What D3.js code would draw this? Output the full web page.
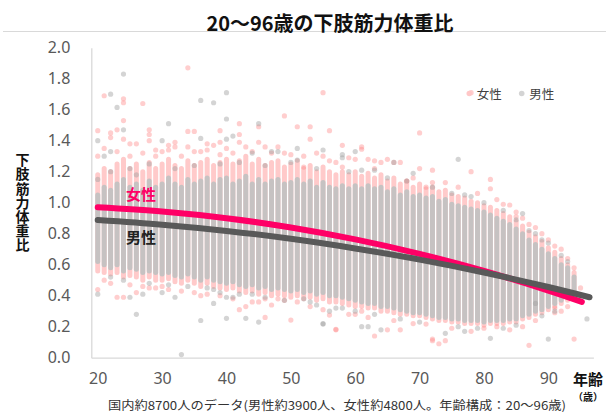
<!DOCTYPE html>
<html><head><meta charset="utf-8">
<script src="https://cdn.jsdelivr.net/npm/d3@7/dist/d3.min.js"></script>
<style>
html,body{margin:0;padding:0;background:#fff;}
svg{display:block;font-family:"Noto Sans CJK JP","Noto Sans",sans-serif;}
</style></head>
<body><svg id="chart" width="606" height="412"></svg>
<script>
// ---- data ----
const ages = [20,21,22,23,24,25,26,27,28,29,30,31,32,33,34,35,36,37,38,39,40,41,42,43,44,45,46,47,48,49,50,51,52,53,54,55,56,57,58,59,60,61,62,63,64,65,66,67,68,69,70,71,72,73,74,75,76,77,78,79,80,81,82,83,84,85,86,87,88,89,90,91,92,93,94,95,96];
// dense column ranges (ratio) per age
const maleHi = [1.05,1.10,1.08,1.12,1.15,1.10,1.12,1.08,1.14,1.10,1.12,1.16,1.12,1.10,1.15,1.12,1.14,1.16,1.12,1.15,1.16,1.12,1.14,1.17,1.12,1.15,1.12,1.14,1.15,1.12,1.13,1.15,1.12,1.14,1.10,1.13,1.10,1.09,1.11,1.09,1.11,1.09,1.11,1.09,1.10,1.07,1.09,1.05,1.07,1.04,1.05,1.03,1.04,1.01,1.02,0.99,0.98,0.97,0.96,0.95,0.94,0.92,0.90,0.88,0.86,0.83,0.80,0.76,0.73,0.70,0.67,0.64,0.60,0.58,0.52,null,null];
const maleLo = [0.62,0.60,0.58,0.60,0.56,0.58,0.57,0.55,0.56,0.55,0.54,0.55,0.53,0.52,0.54,0.52,0.50,0.52,0.50,0.49,0.48,0.49,0.47,0.46,0.47,0.45,0.46,0.44,0.45,0.44,0.43,0.44,0.42,0.43,0.41,0.42,0.40,0.40,0.39,0.38,0.37,0.36,0.35,0.35,0.33,0.33,0.32,0.31,0.30,0.29,0.29,0.28,0.27,0.26,0.26,0.25,0.25,0.24,0.24,0.24,0.23,0.24,0.24,0.24,0.25,0.25,0.27,0.28,0.30,0.31,0.33,0.35,0.37,0.39,0.42,null,null];
const femaleHi = [1.18,1.22,1.20,1.25,1.28,1.22,1.25,1.20,1.26,1.22,1.25,1.28,1.24,1.22,1.27,1.24,1.26,1.28,1.24,1.26,1.28,1.25,1.27,1.30,1.25,1.28,1.24,1.26,1.27,1.23,1.25,1.27,1.22,1.24,1.20,1.23,1.20,1.18,1.20,1.18,1.20,1.17,1.19,1.16,1.18,1.14,1.16,1.12,1.14,1.10,1.12,1.09,1.10,1.07,1.08,1.05,1.04,1.03,1.01,1.00,0.98,0.97,0.95,0.93,0.91,0.88,0.85,0.81,0.78,0.75,0.71,0.68,0.64,0.60,0.55,null,null];
const femaleLo = [0.56,0.55,0.54,0.55,0.52,0.53,0.52,0.50,0.52,0.50,0.50,0.51,0.49,0.48,0.50,0.48,0.46,0.48,0.46,0.45,0.44,0.45,0.43,0.42,0.43,0.41,0.42,0.40,0.41,0.40,0.39,0.40,0.38,0.39,0.37,0.38,0.36,0.36,0.35,0.34,0.33,0.33,0.32,0.32,0.30,0.30,0.29,0.28,0.28,0.27,0.27,0.26,0.25,0.24,0.24,0.23,0.23,0.22,0.22,0.22,0.21,0.22,0.22,0.22,0.23,0.23,0.25,0.26,0.28,0.29,0.31,0.33,0.35,0.37,0.40,null,null];
// individual scattered points [age, ratio]
const femalePoints = [[34,1.87],[21,1.69],[24,1.67],[24,1.645],[27,1.64],[24,1.53],[20,1.465],[22,1.45],[22,1.42],[23,1.47],[24,1.41],[28,1.47],[28,1.44],[28,1.40],[34,1.46],[35,1.46],[26,1.38],[25,1.38],[31,1.37],[31,1.34],[32,1.39],[32,1.36],[29,1.34],[37,1.38],[37,1.34],[38,1.37],[34,1.36],[35,1.33],
[20,0.44],[23,0.39],[24,0.39],[26,0.42],[28,0.45],[29,0.45],[30,0.46],[36,0.40],[21,0.50],[22,0.48],
[55,1.71],[49,1.56],[39,1.465],[42,1.51],[51,1.49],[53,1.49],[56,1.465],[42,1.44],[39,1.39],[45,1.39],[53,1.41],[46,1.36],[48,1.36],[42,1.39],[49,1.32],[54,1.32],[39,1.31],[52,1.23],[56,1.27],[58,1.37],[45,1.49],
[46,0.26],[50,0.243],[57,0.183],[56,0.275],[42,0.31],[43,0.33],[44,0.36],[45,0.36],[46,0.38],[48,0.38],[49,0.37],[51,0.36],
[78,1.71],[70,1.45],[61,1.36],[61,1.345],[58,1.23],[59,1.29],[60,1.28],[62,1.28],[63,1.27],[64,1.26],[65,1.28],[66,1.26],[67,1.26],[70,1.22],[72,1.21],[72,1.13],[71,1.10],[68,1.14],
[72,0.12],[73,0.09],[63,0.14],[65,0.18],[67,0.18],[71,0.217],[60,0.28],[61,0.30],
[57,0.18],[72,0.11],[74,0.11],[87,0.08],[94,0.12],[82,0.20],[80,0.19],[91,0.32],[91,0.29],
[78,1.20],[81,1.15],[81,1.09],[84,0.985],[85,0.94],[85,0.91],[87,0.86],[91,0.72],
[20,1.30],[21,1.35],[23,1.33],[25,1.30],[27,1.32],[29,1.30],[30,1.33],[33,1.30],[36,1.33],[40,1.35],[41,1.32],[43,1.36],[44,1.33],[47,1.32],[50,1.31],[52,1.30],[55,1.30],[57,1.26],[63,1.22],[69,1.16],[74,1.13],[76,1.10],[79,1.06],[82,1.02],[83,0.99],[86,0.90],[88,0.84],[89,0.80],[90,0.76],[92,0.70],[93,0.64],[94,0.58],[95,0.45],
[25,0.47],[27,0.46],[31,0.44],[33,0.43],[35,0.42],[37,0.41],[39,0.40],[41,0.38],[47,0.34],[53,0.33],[55,0.31],[59,0.28],[62,0.26],[66,0.24],[69,0.22],[75,0.19],[78,0.17],[84,0.18],[86,0.20],[88,0.24],[92,0.30],[93,0.33]];
const malePoints = [[24,1.83],[22,1.70],[23,1.615],[36,1.66],[38,1.645],[20,1.40],[24,1.47],[31,1.51],[30,1.40],[36,1.415],[21,1.30],[22,1.33],
[26,0.28],[33,0.02],[36,0.24],[20,0.41],[25,0.39],[27,0.41],[30,0.42],[32,0.39],[38,0.35],
[40,1.71],[40,1.54],[45,1.51],[41,1.43],[40,1.41],[51,1.35],[48,1.33],[55,1.34],[44,1.32],[47,1.33],[51,1.275],[58,1.31],
[40,0.254],[43,0.254],[45,0.23],[55,0.217],[41,0.39],[40,0.39],[56,0.30],[57,0.32],[53,0.36],[52,0.38],[44,0.41],[38,0.44],[39,0.42],
[60,1.33],[58,1.29],[66,1.26],[61,1.21],[63,1.21],[69,1.19],[76,1.28],[75,1.06],[77,1.05],
[74,0.157],[61,0.20],[62,0.20],[64,0.18],[77,0.17],[58,0.32],
[55,0.22],[81,0.125],[90,0.12],[96,0.25],[88,0.35],
[86,0.93],[87,0.82],[89,0.76],
[20,1.15],[22,1.20],[25,1.22],[26,1.18],[28,1.25],[32,1.22],[35,1.24],[39,1.25],[42,1.26],[46,1.24],[50,1.26],[54,1.22],[59,1.20],[65,1.16],[68,1.14],[72,1.10],[78,1.04],[80,1.00],[83,0.95],[85,0.89],[88,0.80],[90,0.74],[92,0.66],[93,0.62],
[22,0.52],[24,0.50],[28,0.48],[31,0.47],[34,0.46],[37,0.45],[42,0.41],[46,0.39],[49,0.37],[54,0.34],[60,0.30],[63,0.28],[67,0.25],[70,0.23],[76,0.20],[79,0.19],[83,0.19],[85,0.21],[89,0.27],[91,0.30],[94,0.38],[95,0.40]];
// trend lines
const femaleTrendAges = [20,30,40,50,60,70,80,90,95.2];
const femaleTrend = [0.97,0.943,0.90,0.84,0.763,0.67,0.56,0.433,0.36];
const maleTrendAges = [20,30,40,50,60,70,80,90,96.4];
const maleTrend = [0.888,0.858,0.818,0.767,0.705,0.633,0.55,0.456,0.39];
const xTicks = [20,30,40,50,60,70,80,90];
const yTicks = [0,0.2,0.4,0.6,0.8,1.0,1.2,1.4,1.6,1.8,2.0];

// ---- chart ----
const svg = d3.select("#chart");
const x = d3.scaleLinear().domain([19, 97]).range([91.3, 593.4]);
const y = d3.scaleLinear().domain([0, 2]).range([357.7, 47.7]);

svg.append("line").attr("x1",3).attr("x2",606).attr("y1",31.5).attr("y2",31.5)
  .attr("stroke","#d9d9d9").attr("stroke-width",1);
svg.append("text").attr("x",330).attr("y",22).attr("text-anchor","middle")
  .attr("dominant-baseline","central").attr("font-size",20).attr("font-weight","bold")
  .attr("fill","#111").text("20～96歳の下肢筋力体重比");

// axes
const yAxis = svg.append("g").attr("transform",`translate(${x(19)},0)`)
  .call(d3.axisLeft(y).tickValues(yTicks).tickFormat(d3.format(".1f")).tickSize(0).tickPadding(21));
const xAxis = svg.append("g").attr("transform",`translate(0,${y(0)})`)
  .call(d3.axisBottom(x).tickValues(xTicks).tickSize(0).tickPadding(15));
[yAxis,xAxis].forEach(g=>{
  g.select(".domain").attr("stroke","#d9d9d9").attr("stroke-width",1.3);
  g.selectAll("text").attr("font-size",16).attr("fill","#595959")
   .attr("font-family",'"Noto Sans","Noto Sans CJK JP",sans-serif');
});

const plot = svg.append("g");
function cores(lo, hi, color, op){
  const rows = ages.map((a,i)=>({a, lo:lo[i], hi:hi[i]})).filter(d=>d.lo!=null);
  plot.append("g").selectAll("line").data(rows).join("line")
    .attr("x1",d=>x(d.a)).attr("x2",d=>x(d.a))
    .attr("y1",d=>y(d.hi)).attr("y2",d=>y(d.lo))
    .attr("stroke",color).attr("stroke-opacity",op).attr("stroke-width",5)
    .attr("stroke-linecap","round");
}
function dots(pts, color, op){
  plot.append("g").selectAll("circle").data(pts).join("circle")
    .attr("cx",d=>x(d[0])).attr("cy",d=>y(d[1])).attr("r",2.6)
    .attr("fill",color).attr("fill-opacity",op);
}
cores(femaleLo, femaleHi, "#ffcaca", 1);
dots(femalePoints, "#ff8a8a", 0.42);
cores(maleLo, maleHi, "#c2c2c2", 0.93);
dots(malePoints, "#a0a0a0", 0.45);

// trend lines
const line = d3.line().x(d=>x(d[0])).y(d=>y(d[1])).curve(d3.curveCatmullRom);
svg.append("path").datum(femaleTrendAges.map((a,i)=>[a,femaleTrend[i]]))
  .attr("d",line).attr("fill","none").attr("stroke","#ff0066").attr("stroke-width",6).attr("stroke-linecap","round");
svg.append("path").datum(maleTrendAges.map((a,i)=>[a,maleTrend[i]]))
  .attr("d",line).attr("fill","none").attr("stroke","#595959").attr("stroke-width",6).attr("stroke-linecap","round");

// labels
svg.append("text").attr("x",126).attr("y",193).attr("dominant-baseline","central")
  .attr("font-size",15).attr("font-weight","bold").attr("fill","#ff0066").text("女性");
svg.append("text").attr("x",126).attr("y",236).attr("dominant-baseline","central")
  .attr("font-size",15).attr("font-weight","bold").attr("fill","#222").text("男性");

// legend
const legend = [{t:"女性",c:"#ffc7c7",x:469.3},{t:"男性",c:"#d4d4d4",x:521.7}];
legend.forEach(l=>{
  svg.append("circle").attr("cx",l.x).attr("cy",93.5).attr("r",2.8).attr("fill",l.c);
  svg.append("text").attr("x",l.x+7.5).attr("y",93.5).attr("dominant-baseline","central")
    .attr("font-size",12.5).attr("fill","#404040").text(l.t);
});

// y title (vertical)
svg.append("text").attr("transform","translate(22.5,202.5)")
  .attr("writing-mode","vertical-rl").attr("text-anchor","middle")
  .attr("font-size",14).attr("font-weight","bold").attr("letter-spacing",0.2)
  .attr("fill","#111").text("下肢筋力体重比");

// x title
svg.append("text").attr("x",588).attr("y",378.5).attr("text-anchor","middle")
  .attr("dominant-baseline","central").attr("font-size",15).attr("font-weight","bold")
  .attr("fill","#111").text("年齢");
svg.append("text").attr("x",588).attr("y",396).attr("text-anchor","middle")
  .attr("dominant-baseline","central").attr("font-size",10).attr("font-weight","bold")
  .attr("fill","#111").text("（歳）");

// caption
svg.append("text").attr("x",337).attr("y",404).attr("text-anchor","middle")
  .attr("dominant-baseline","central").attr("font-size",12).attr("fill","#333")
  .attr("textLength",458).attr("lengthAdjust","spacingAndGlyphs")
  .text("国内約8700人のデータ(男性約3900人、女性約4800人。年齢構成：20〜96歳)");
</script></body></html>
